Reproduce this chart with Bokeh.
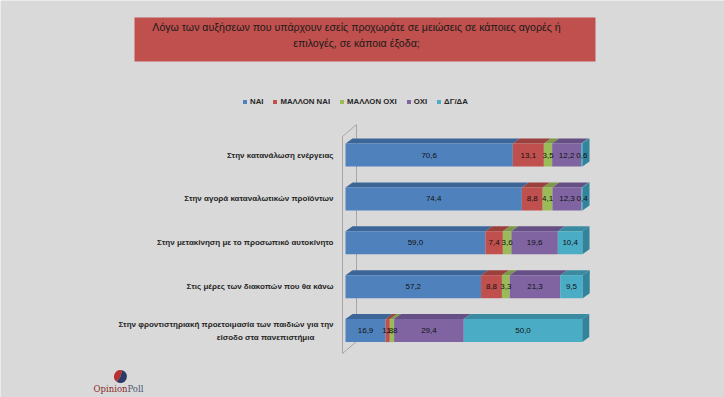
import math
from bokeh.plotting import figure
from bokeh.models import Range1d, Legend, LegendItem
from bokeh.core.properties import value
from bokeh.embed import file_html
from bokeh.resources import INLINE

# ---------------- data ----------------
categories = [
    "Στην κατανάλωση ενέργειας",
    "Στην αγορά καταναλωτικών προϊόντων",
    "Στην μετακίνηση με το προσωπικό αυτοκίνητο",
    "Στις μέρες των διακοπών που θα κάνω",
    "Στην φροντιστηριακή προετοιμασία των παιδιών για την\nείσοδο στα πανεπιστήμια",
]
series_names = ["ΝΑΙ", "ΜΑΛΛΟΝ ΝΑΙ", "ΜΑΛΛΟΝ ΟΧΙ", "ΟΧΙ", "ΔΓ/ΔΑ"]
nai = [70.6, 74.4, 59.0, 57.2, 16.9]
mallon_nai = [13.1, 8.8, 7.4, 8.8, 1.8]
mallon_oxi = [3.5, 4.1, 3.6, 3.3, 1.8]
oxi = [12.2, 12.3, 19.6, 21.3, 29.4]
dgda = [0.6, 0.4, 10.4, 9.5, 50.0]
series = [nai, mallon_nai, mallon_oxi, oxi, dgda]

title_lines = [
    "Λόγω των αυξήσεων που υπάρχουν εσείς προχωράτε σε μειώσεις σε κάποιες αγορές ή",
    "επιλογές, σε κάποια έξοδα;",
]

# ---------------- style ----------------
BG = "#d9d9d9"
FRONT = ["#4f81bd", "#c0504d", "#9bbb59", "#8064a2", "#4bacc6"]
TOP = ["#3d6698", "#9a413e", "#7d9848", "#664f84", "#3a8ba1"]
SIDE = ["#365c89", "#8a3a38", "#718a40", "#5c4876", "#31849b"]
FONT = "Liberation Sans"

W, H = 724, 397
PX_PER_PCT = 2.37
X0_PX = 345
ROW0_PX = 154.5
ROW_PX = 43.9
BAR_H = 23 / ROW_PX
DX = 7 / PX_PER_PCT
DY = 5 / ROW_PX

y_top = -ROW0_PX / ROW_PX
y_bottom = y_top + H / ROW_PX


def px_x(px):
    return (px - X0_PX) / PX_PER_PCT


def px_y(py):
    return (py - ROW0_PX) / ROW_PX


p = figure(
    width=W, height=H,
    x_range=Range1d(-X0_PX / PX_PER_PCT, (W - X0_PX) / PX_PER_PCT),
    y_range=Range1d(y_bottom, y_top),
    output_backend="svg", toolbar_location=None,
    x_axis_location=None, y_axis_location=None,
    min_border=0, background_fill_color=BG, border_fill_color=BG,
    outline_line_color=None,
)
p.grid.visible = False

# ---------------- title box ----------------
p.quad(left=[px_x(134)], right=[px_x(595)], top=[px_y(17)], bottom=[px_y(61)],
       fill_color="#c0504d", line_color=None)
for k, line in enumerate(title_lines):
    p.text(x=[px_x(356)], y=[px_y(26 + 16 * k)], text=[line],
           text_font=value(FONT), text_font_size="10.6px", text_color="#1a1a1a",
           text_align="center", text_baseline="middle")

# ---------------- back wall ----------------
wall_c = "#a6a6a6"
p.line(x=[px_x(342), px_x(342)], y=[px_y(136), px_y(353)], line_color=wall_c, line_width=1)
p.line(x=[px_x(356), px_x(356)], y=[px_y(124), px_y(341)], line_color=wall_c, line_width=1)
p.line(x=[px_x(342), px_x(356)], y=[px_y(136), px_y(124)], line_color=wall_c, line_width=1)
p.line(x=[px_x(342), px_x(356)], y=[px_y(353), px_y(341)], line_color=wall_c, line_width=1)

# ---------------- 3D stacked bars ----------------
n_rows = len(categories)
cum = [0.0] * n_rows
legend_items = []
label_x, label_y, label_t = [], [], []
for j, vals in enumerate(series):
    lefts = cum[:]
    rights = [l + v for l, v in zip(lefts, vals)]
    tops = [i - BAR_H / 2 for i in range(n_rows)]
    bottoms = [i + BAR_H / 2 for i in range(n_rows)]
    xs = [[l, r, r + DX, l + DX] for l, r in zip(lefts, rights)]
    ys = [[t, t, t - DY, t - DY] for t in tops]
    p.patches(xs=xs, ys=ys, fill_color=TOP[j], line_color=None)
    r = p.quad(left=lefts, right=rights, top=tops, bottom=bottoms,
               fill_color=FRONT[j], line_color=None)
    legend_items.append(LegendItem(label=series_names[j], renderers=[r]))
    for i, v in enumerate(vals):
        label_x.append(lefts[i] + v / 2)
        label_y.append(i)
        label_t.append(f"{v:.1f}".replace(".", ","))
    cum = rights

# side faces of last segment
sx = [[c, c + DX, c + DX, c] for c in cum]
sy = [[i - BAR_H / 2, i - BAR_H / 2 - DY, i + BAR_H / 2 - DY, i + BAR_H / 2] for i in range(n_rows)]
p.patches(xs=sx, ys=sy, fill_color=SIDE[-1], line_color=None)

p.text(x=label_x, y=label_y, text=label_t, text_font=value(FONT),
       text_font_size="8px", text_color="#111111",
       text_align="center", text_baseline="middle")

# ---------------- category labels ----------------
single = categories[:-1]
p.text(x=[px_x(333)] * len(single), y=list(range(len(single))), text=single,
       text_font=value(FONT), text_font_size="8px", text_font_style="bold",
       text_color="#262626", text_align="right", text_baseline="middle")
line1, line2 = categories[-1].split("\n")
p.text(x=[px_x(333)], y=[n_rows - 1 - 6.5 / ROW_PX], text=[line1],
       text_font=value(FONT), text_font_size="8px", text_font_style="bold",
       text_color="#262626", text_align="right", text_baseline="middle")
p.text(x=[px_x(265)], y=[n_rows - 1 + 6.5 / ROW_PX], text=[line2],
       text_font=value(FONT), text_font_size="8px", text_font_style="bold",
       text_color="#262626", text_align="center", text_baseline="middle")

# ---------------- legend ----------------
legend = Legend(items=legend_items, orientation="horizontal",
                location=(242, H - 106), glyph_width=5, glyph_height=5,
                label_text_font=FONT, label_text_font_size="7.8px",
                label_text_font_style="bold", label_text_color="#262626",
                label_standoff=3, spacing=9, padding=0, margin=0,
                label_height=10, label_width=0,
                background_fill_alpha=0, border_line_color=None)
p.add_layout(legend, "center")

# ---------------- logo ----------------
p.wedge(x=[px_x(120)], y=[px_y(376)], radius=6.5, radius_units="screen",
        start_angle=math.radians(75), end_angle=math.radians(235),
        fill_color="#b8302f", line_color=None)
p.wedge(x=[px_x(120)], y=[px_y(376)], radius=6.5, radius_units="screen",
        start_angle=math.radians(235), end_angle=math.radians(435),
        fill_color="#2b3a66", line_color=None)
p.text(x=[px_x(127)], y=[px_y(388)], text=["Opinion"], text_font=value("DejaVu Serif"),
       text_font_size="8.5px", text_color="#8b2a2c", text_align="right",
       text_baseline="middle")
p.text(x=[px_x(127)], y=[px_y(388)], text=["Poll"], text_font=value("DejaVu Serif"),
       text_font_size="8.5px", text_color="#4a5570", text_align="left",
       text_baseline="middle")

open("out.html", "w").write(file_html(p, INLINE))
